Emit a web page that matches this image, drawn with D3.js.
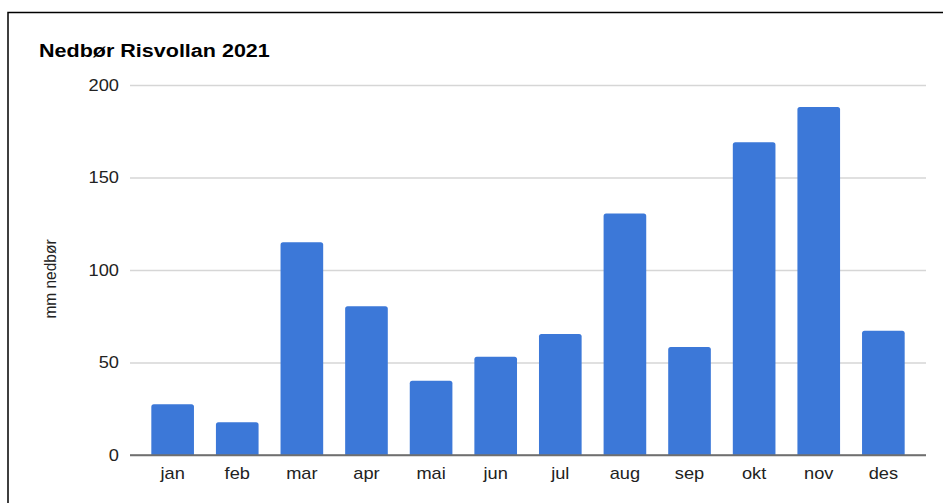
<!DOCTYPE html>
<html>
<head>
<meta charset="utf-8">
<script src="https://cdn.jsdelivr.net/npm/d3@7.9.0/dist/d3.min.js"></script>
<style>
  html, body { margin: 0; padding: 0; background: #fff; }
  svg { display: block; font-family: Arial, "Liberation Sans", sans-serif; }
</style>
</head>
<body>
<svg id="chart" width="943" height="503"></svg>
<script>
// monthly precipitation (mm)
const months = ['jan', 'feb', 'mar', 'apr', 'mai', 'jun', 'jul', 'aug', 'sep', 'okt', 'nov', 'des'];
const precip = [27.4, 17.7, 115, 80.4, 40.2, 53.1, 65.4, 130.6, 58.4, 169, 188.1, 67.2];
const yTicks = [0, 50, 100, 150, 200];

const svg = d3.select('#chart');
const W = +svg.attr('width');
const H = +svg.attr('height');
const FONT = 'Arial, "Liberation Sans", sans-serif';
const stretch = 1.14; // the reference text is a bit wider than plain Arial

// frame (top and left edge only)
svg.append('path')
  .attr('d', `M8,${H} V12.5 H${W}`)
  .attr('fill', 'none')
  .attr('stroke', '#000')
  .attr('stroke-width', 1.5);

// title
svg.append('text')
  .attr('transform', 'translate(39,57) scale(1.23,1)')
  .attr('font-size', 17.5)
  .attr('font-weight', 'bold')
  .attr('fill', '#000')
  .text('Nedbør Risvollan 2021');

const plotLeft = 130, plotRight = 926, plotTop = 85, plotBottom = 455;

const x = d3.scaleBand()
  .domain(months)
  .range([plotLeft, plotRight])
  .paddingInner(0.34)
  .paddingOuter(0.33);

const y = d3.scaleLinear().domain([0, 200]).range([plotBottom, plotTop]);

// gridlines + y labels
const yAxis = svg.append('g')
  .attr('transform', `translate(${plotLeft},0)`)
  .call(d3.axisLeft(y).tickValues(yTicks).tickSize(-(plotRight - plotLeft)));
yAxis.select('.domain').remove();
yAxis.selectAll('.tick line')
  .attr('stroke', d => d === 0 ? '#6f6f6f' : '#d6d6d6')
  .attr('stroke-width', d => d === 0 ? 1.5 : 1.3);
yAxis.selectAll('.tick text')
  .attr('x', 0)
  .attr('transform', `translate(-11,0) scale(${stretch},1)`)
  .attr('font-size', 16)
  .attr('fill', '#222')
  .attr('font-family', FONT);

// bars with rounded top corners
const r = 2.5;
svg.append('g')
  .selectAll('path')
  .data(months.map((m, i) => ({ m, v: precip[i] })))
  .join('path')
  .attr('fill', '#3c78d8')
  .attr('d', d => {
    const x0 = x(d.m), w = x.bandwidth(), y0 = y(d.v), yb = y(0);
    return `M${x0},${yb} V${y0 + r} Q${x0},${y0} ${x0 + r},${y0} H${x0 + w - r} Q${x0 + w},${y0} ${x0 + w},${y0 + r} V${yb} Z`;
  });

// redraw zero line on top of bars
svg.append('line')
  .attr('x1', plotLeft).attr('x2', plotRight)
  .attr('y1', y(0)).attr('y2', y(0))
  .attr('stroke', '#6f6f6f')
  .attr('stroke-width', 1.5);

// x labels
const xAxis = svg.append('g')
  .attr('transform', `translate(0,${plotBottom})`)
  .call(d3.axisBottom(x).tickSize(0).tickPadding(13));
xAxis.select('.domain').remove();
xAxis.selectAll('.tick text')
  .attr('transform', `scale(${stretch},1)`)
  .attr('font-size', 16)
  .attr('fill', '#222')
  .attr('font-family', FONT);

// y axis title
svg.append('text')
  .attr('transform', 'translate(56,279) rotate(-90) scale(1,1.1)')
  .attr('text-anchor', 'middle')
  .attr('font-size', 15.5)
  .attr('fill', '#222')
  .text('mm nedbør');
</script>
</body>
</html>
